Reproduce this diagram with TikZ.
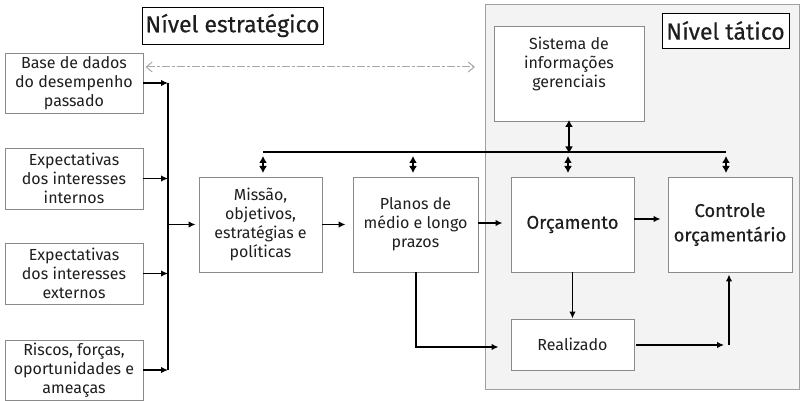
\documentclass[tikz,border=0pt]{standalone}
\usepackage{fontspec}
\setmainfont{Fira Sans}
\newfontfamily\medfont[FakeBold=0.4]{Fira Sans}
\newfontfamily\semfont[FakeBold=0.3]{Fira Sans}
\usetikzlibrary{arrows.meta,calc}
\definecolor{boxgray}{HTML}{8A8A8A}
\definecolor{regfill}{HTML}{F3F3F3}
\definecolor{regdraw}{HTML}{A0A0A0}
\definecolor{dashgray}{HTML}{A8A8A8}
\definecolor{txt}{HTML}{1E1E1E}
\begin{document}
\begin{tikzpicture}[x=1pt,y=-1pt,
  box/.style={draw=boxgray, line width=0.9pt, fill=white, align=center, inner sep=0pt,
              text=txt, font=\fontsize{16}{19}\selectfont},
  bigbox/.style={box, font=\semfont\fontsize{18.5}{24.5}\selectfont},
  titlebox/.style={draw=black, line width=0.9pt, fill=white, inner sep=0pt,
              text=txt, font=\medfont\fontsize{23}{26}\selectfont},
  arr/.style={line width=1.6pt, -{Latex[length=7pt,width=6.5pt]}},
  bus/.style={line width=1.6pt},
  dbl/.style={line width=1.5pt, {Latex[length=7pt,width=8pt]}-{Latex[length=7pt,width=8pt]}},
  dsh/.style={draw=dashgray, line width=1pt, dash pattern=on 8pt off 2pt on 3pt off 2pt,
              {Straight Barb[length=6pt,width=10pt]}-{Straight Barb[length=6pt,width=10pt]}}
]
\useasboundingbox (0,0) rectangle (806,401);
% tactical region
\draw[fill=regfill, draw=regdraw, line width=1pt] (485,5) rectangle (799,389);

\node[titlebox, minimum width=181pt, minimum height=37pt] (est) at (232.5,25.5) {Nível estratégico};
\node[titlebox, minimum width=127pt, minimum height=35pt] (tat) at (725.5,30.5) {Nível tático};

\node[box, minimum width=138pt, minimum height=60pt] (base) at (74,83) {Base de dados\\do desempenho\\passado};
\node[box, minimum width=138pt, minimum height=61pt] (int) at (74,178.5) {Expectativas\\dos interesses\\internos};
\node[box, minimum width=138pt, minimum height=61pt] (ext) at (74,273.5) {Expectativas\\dos interesses\\externos};
\node[box, minimum width=138pt, minimum height=60pt] (ris) at (74,370) {Riscos, forças,\\oportunidades e\\ameaças};

\node[box, minimum width=123pt, minimum height=95pt] (mis) at (260.5,224.5) {Missão,\\objetivos,\\estratégias e\\políticas};
\node[box, minimum width=125pt, minimum height=95pt] (pla) at (415.5,224.5) {Planos de\\médio e longo\\prazos};
\node[bigbox, minimum width=123pt, minimum height=95pt] (orc) at (572.5,224.5) {Orçamento};
\node[bigbox, minimum width=124pt, minimum height=95pt] (con) at (730,224.5) {Controle\\orçamentário};
\node[box, minimum width=123pt, minimum height=51pt] (rea) at (572.5,344.5) {Realizado};
\node[box, minimum width=150pt, minimum height=95pt] (sis) at (569,73.5) {Sistema de\\informações\\gerenciais\\[4pt]};

% dashed feedback arrow
\coordinate (dshend) at (475,67);
\draw[dsh] (base.east |- dshend) ++(2,0) -- (dshend);

% left bus
\coordinate (lbt) at (168,83);
\coordinate (lbb) at (168,370);
\draw[bus] (lbt) -- (lbb);
\foreach \n in {base,int,ext,ris}{
  \draw[arr] (\n.east) -- (\n.east -| lbt);
}
\draw[arr] (mis.west -| lbt) -- ([xshift=-3pt]mis.west);
\draw[arr] (mis.east) -- ([xshift=-7pt]pla.west);
\draw[arr] ([yshift=1.5pt]pla.east) -- ([xshift=-8pt,yshift=1.5pt]orc.west);
\draw[arr] ([yshift=5.5pt]orc.east) -- ([xshift=-7pt,yshift=5.5pt]con.west);
\draw[arr] (orc.south) -- (rea.north);

% top bus
\coordinate (tbl) at (263,152);
\coordinate (tbr) at (726,152);
\draw[line width=2.4pt] (tbl) -- (tbr);
\draw[dbl] ([yshift=1.5pt]sis.south) -- ([yshift=-1.5pt]sis.south |- tbl);
\foreach \xx/\n in {263/mis,413/pla,568/orc,726/con}{
  \draw[dbl] (\xx,156) -- (\xx,173);
}

% Planos -> Realizado
\coordinate (pl1) at (416,347);
\draw[arr] (pla.south -| pl1) -- (pl1) -- ([xshift=-12pt]rea.west |- pl1);
% Realizado -> Controle
\coordinate (rc1) at (724,345);
\coordinate (rc2) at (729,345);
\draw[arr] ([xshift=2pt]rea.east |- rc1) -- (rc1);
\draw[arr] (rc2) -- ([yshift=-2pt]con.south -| rc2);
\end{tikzpicture}
\end{document}
